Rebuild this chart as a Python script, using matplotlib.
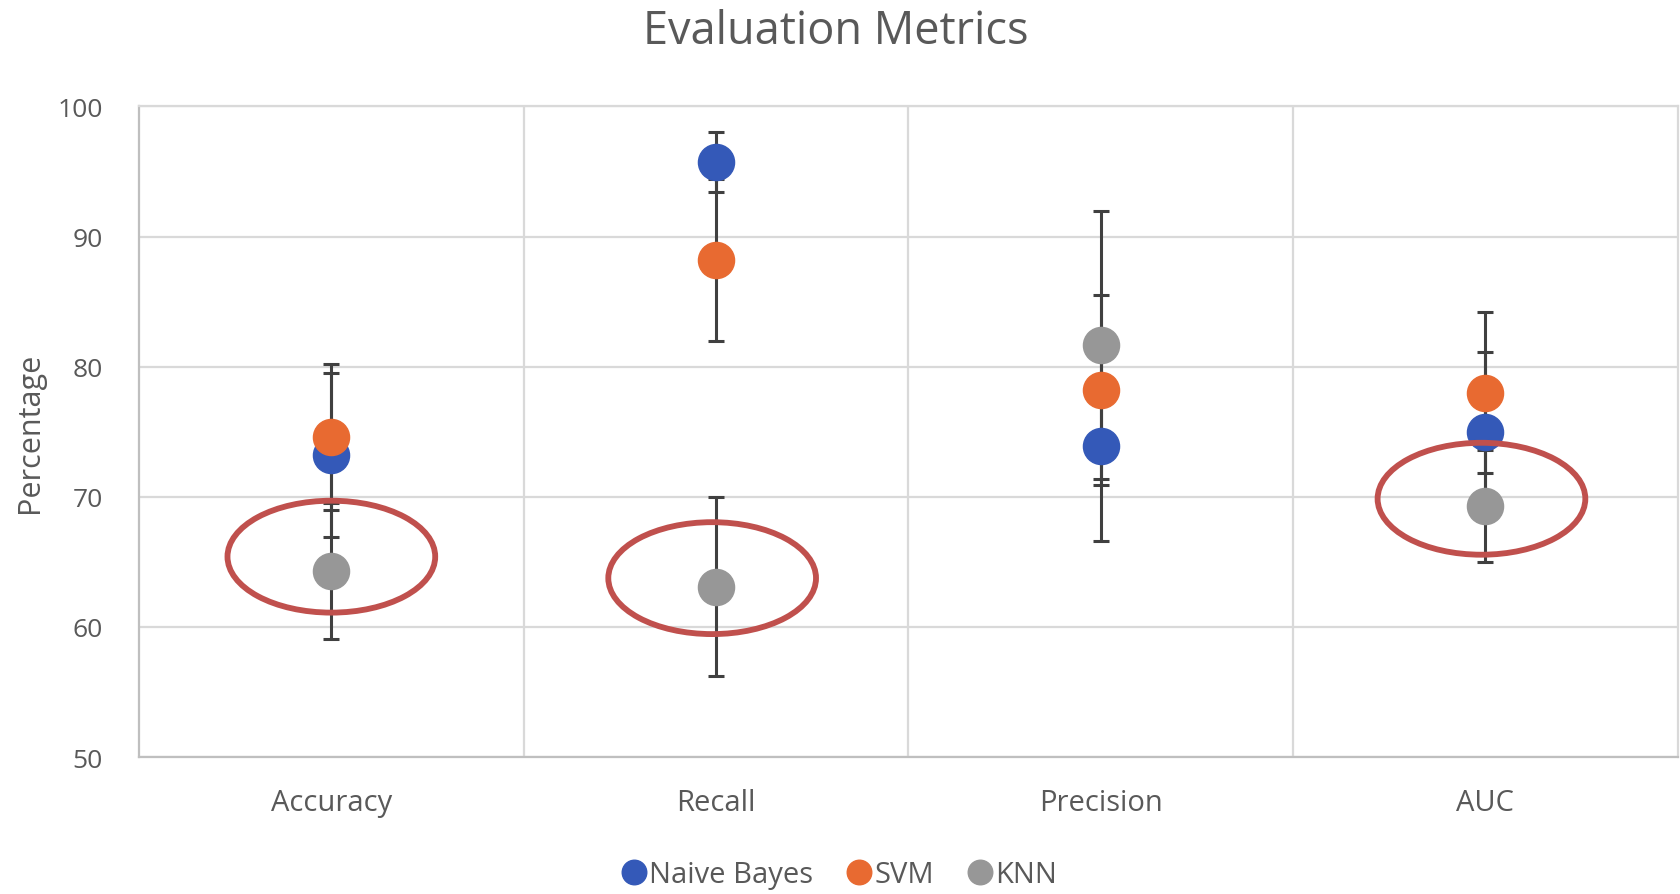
import numpy as np
import matplotlib.pyplot as plt
from matplotlib.patches import Ellipse

# Data
categories = ["Accuracy", "Recall", "Precision", "AUC"]
nb_values = [73.2, 95.7, 73.9, 75.0]
nb_errors = [6.3, 2.3, 7.3, 6.1]
svm_values = [74.6, 88.2, 78.2, 78.0]
svm_errors = [5.6, 6.2, 7.3, 6.2]
knn_values = [64.3, 63.1, 81.7, 69.3]
knn_errors = [5.2, 6.9, 10.3, 4.3]
series_names = ["Naive Bayes", "SVM", "KNN"]
y_ticks = [50, 60, 70, 80, 90, 100]

# Highlighted KNN results (category index, centre value)
highlight_x = [0, 0.99, 2.99]
highlight_y = [65.4, 63.75, 69.85]

colors = ["#3459b8", "#e86a31", "#979797"]
text_color = "#595959"
grid_color = "#d9d9d9"

plt.rcParams["font.family"] = ["Open Sans", "DejaVu Sans"]

fig = plt.figure(figsize=(16.81, 8.95), dpi=100)
ax = fig.add_axes([0.0827, 0.153, 0.9153, 0.727])

x = np.arange(len(categories))
all_values = [nb_values, svm_values, knn_values]
all_errors = [nb_errors, svm_errors, knn_errors]

# error bars first, markers on top of every bar
for vals, errs in zip(all_values, all_errors):
    ax.errorbar(x, vals, yerr=errs, fmt="none", ecolor="#404040",
                elinewidth=2.2, capsize=5.5, capthick=2.2, zorder=2)
for vals, name, c in zip(all_values, series_names, colors):
    ax.plot(x, vals, "o", color=c, markersize=26, label=name,
            linestyle="none", zorder=3)

for hx, hy in zip(highlight_x, highlight_y):
    ax.add_patch(Ellipse((hx, hy), 0.54, 8.6, fill=False,
                         edgecolor="#c0504d", linewidth=4.2, zorder=4))

ax.set_xlim(-0.5, 3.5)
ax.set_ylim(50, 100)
ax.set_yticks(y_ticks)
ax.set_xticks(x)
ax.set_xticklabels(categories)
ax.set_xticks([0.5, 1.5, 2.5], minor=True)
ax.grid(axis="y", which="major", color=grid_color, linewidth=1.6)
ax.grid(axis="x", which="minor", color=grid_color, linewidth=1.6)
ax.tick_params(axis="both", which="both", length=0, colors=text_color)
ax.tick_params(axis="x", labelsize=21, pad=22)
ax.tick_params(axis="y", labelsize=19, pad=26)
for s in ax.spines.values():
    s.set_color(grid_color)
    s.set_linewidth(1.6)
ax.spines["left"].set_color("#bfbfbf")
ax.spines["bottom"].set_color("#bfbfbf")

ax.set_ylabel("Percentage", fontsize=22, color=text_color, labelpad=9)
fig.suptitle("Evaluation Metrics", fontsize=32.5, color=text_color,
             x=0.497, y=0.99)

fig.legend(loc="center", bbox_to_anchor=(0.499, 0.022), ncol=3,
           frameon=False, fontsize=21, labelcolor=text_color,
           handlelength=0.95, handletextpad=0.05, columnspacing=1.1,
           markerscale=0.68)

fig.savefig("out.png", dpi=100)
